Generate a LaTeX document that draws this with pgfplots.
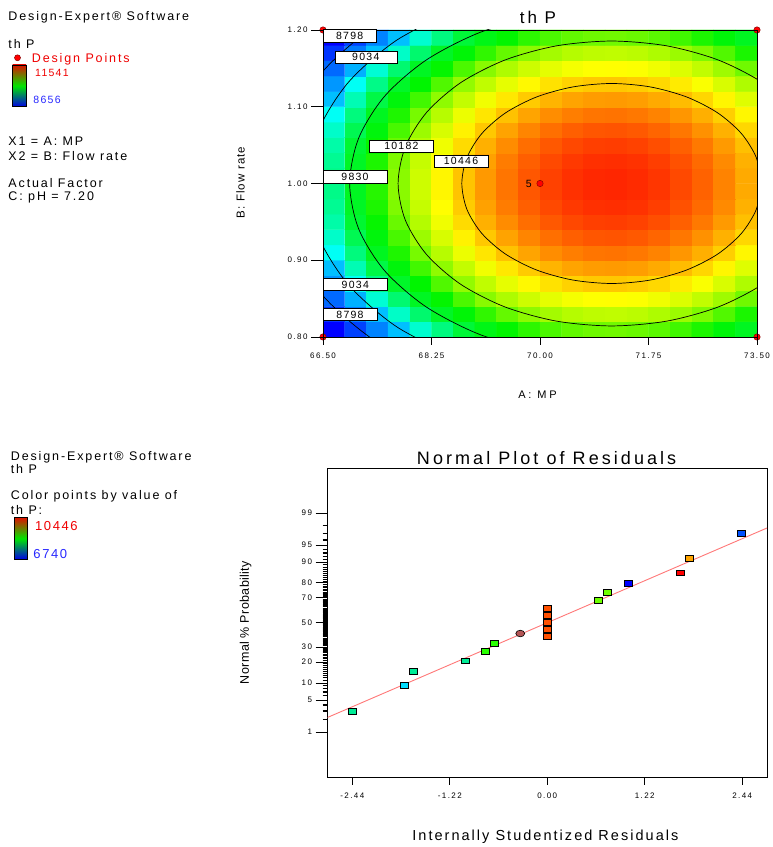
\documentclass[border=0pt]{standalone}
\usepackage{fontspec}
\setmainfont{Liberation Sans}
\usepackage{pgfplots}
\pgfplotsset{compat=1.18}

% size in bp, letter spacing in % of size
\newcommand\fnt[2]{\fontsize{#1bp}{#1bp}\selectfont\addfontfeatures{LetterSpace=#2}}

\definecolor{dpred}{RGB}{240,0,0}
\definecolor{lgblue}{RGB}{40,40,255}
\definecolor{fitline}{RGB}{255,120,120}
\definecolor{ptg}{RGB}{0,235,150}
\definecolor{pcy}{RGB}{0,220,255}
\definecolor{pgr}{RGB}{40,255,0}
\definecolor{pyg}{RGB}{110,255,0}
\definecolor{por}{RGB}{255,80,0}
\definecolor{pbl}{RGB}{0,0,255}
\definecolor{pb2}{RGB}{0,80,255}
\definecolor{prd}{RGB}{255,0,0}
\definecolor{pog}{RGB}{255,165,0}
\definecolor{pcirc}{RGB}{180,85,85}
\definecolor{cbred}{RGB}{220,20,0}
\definecolor{cbgreen}{RGB}{0,230,0}
\definecolor{cbblue}{RGB}{0,0,230}

\begin{document}
\begin{tikzpicture}[x=1bp,y=1bp]
\path[use as bounding box, fill=white] (0,0) rectangle (773,847);

% ---------------- top: response surface of th P ----------------
\begin{axis}[
  at={(323bp,510bp)}, anchor=south west, scale only axis,
  width=434bp, height=307bp,
  xmin=66.5, xmax=73.5, ymin=0.8, ymax=1.2,
  axis on top, clip mode=individual,
  axis line style={black, line width=0.8bp},
  tick pos=left, tick align=outside,
  major tick length=12bp,
  xtick style={/pgfplots/major tick length=8bp},
  tick style={black, line width=0.7bp},
  xtick={66.5,68.25,70,71.75,73.5},
  xticklabels={66.50,68.25,70.00,71.75,73.50},
  ytick={0.8,0.9,1.0,1.1,1.2},
  yticklabels={0.80,0.90,1.00,1.10,1.20},
  ticklabel style={font=\fnt{8}{18}},
  colormap={de}{rgb255(0cm)=(0,0,255) rgb255(5cm)=(0,255,255) rgb255(13.3cm)=(0,245,0) rgb255(17.1cm)=(255,255,0) rgb255(21.1cm)=(255,0,0)},
  point meta min=8650, point meta max=10760,
]
\addplot[matrix plot*, mesh/cols=20, point meta=explicit] coordinates {
(66.675,0.81)[8636] (67.025,0.81)[8777] (67.375,0.81)[8907] (67.725,0.81)[9026] (68.075,0.81)[9305] (68.425,0.81)[9568] (68.775,0.81)[9799] (69.125,0.81)[9907] (69.475,0.81)[9983] (69.825,0.81)[10045] (70.175,0.81)[10092] (70.525,0.81)[10126] (70.875,0.81)[10144] (71.225,0.81)[10149] (71.575,0.81)[10138] (71.925,0.81)[10114] (72.275,0.81)[10075] (72.625,0.81)[10022] (72.975,0.81)[9954] (73.325,0.81)[9872]
(66.675,0.83)[8752] (67.025,0.83)[8894] (67.375,0.83)[9024] (67.725,0.83)[9331] (68.075,0.83)[9626] (68.425,0.83)[9856] (68.775,0.83)[9962] (69.125,0.83)[10052] (69.475,0.83)[10129] (69.825,0.83)[10189] (70.175,0.83)[10224] (70.525,0.83)[10249] (70.875,0.83)[10263] (71.225,0.83)[10266] (71.575,0.83)[10258] (71.925,0.83)[10240] (72.275,0.83)[10211] (72.625,0.83)[10168] (72.975,0.83)[10100] (73.325,0.83)[10018]
(66.675,0.85)[8856] (67.025,0.85)[8997] (67.375,0.85)[9290] (67.725,0.85)[9616] (68.075,0.85)[9866] (68.425,0.85)[9986] (68.775,0.85)[10091] (69.125,0.85)[10182] (69.475,0.85)[10239] (69.825,0.85)[10285] (70.175,0.85)[10321] (70.525,0.85)[10345] (70.875,0.85)[10359] (71.225,0.85)[10362] (71.575,0.85)[10355] (71.925,0.85)[10337] (72.275,0.85)[10308] (72.625,0.85)[10268] (72.975,0.85)[10217] (73.325,0.85)[10147]
(66.675,0.87)[8946] (67.025,0.87)[9181] (67.375,0.87)[9539] (67.725,0.87)[9846] (68.075,0.87)[9980] (68.425,0.87)[10099] (68.775,0.87)[10199] (69.125,0.87)[10266] (69.475,0.87)[10323] (69.825,0.87)[10370] (70.175,0.87)[10405] (70.525,0.87)[10430] (70.875,0.87)[10444] (71.225,0.87)[10447] (71.575,0.87)[10439] (71.925,0.87)[10421] (72.275,0.87)[10392] (72.625,0.87)[10352] (72.975,0.87)[10302] (73.325,0.87)[10241]
(66.675,0.89)[9024] (67.025,0.89)[9394] (67.375,0.89)[9752] (67.725,0.89)[9943] (68.075,0.89)[10077] (68.425,0.89)[10193] (68.775,0.89)[10271] (69.125,0.89)[10339] (69.475,0.89)[10396] (69.825,0.89)[10442] (70.175,0.89)[10477] (70.525,0.89)[10502] (70.875,0.89)[10516] (71.225,0.89)[10519] (71.575,0.89)[10512] (71.925,0.89)[10494] (72.275,0.89)[10465] (72.625,0.89)[10425] (72.975,0.89)[10374] (73.325,0.89)[10313]
(66.675,0.91)[9183] (67.025,0.91)[9572] (67.375,0.91)[9875] (67.725,0.91)[10024] (68.075,0.91)[10158] (68.425,0.91)[10253] (68.775,0.91)[10332] (69.125,0.91)[10399] (69.475,0.91)[10456] (69.825,0.91)[10502] (70.175,0.91)[10538] (70.525,0.91)[10562] (70.875,0.91)[10576] (71.225,0.91)[10580] (71.575,0.91)[10572] (71.925,0.91)[10554] (72.275,0.91)[10525] (72.625,0.91)[10485] (72.975,0.91)[10435] (73.325,0.91)[10373]
(66.675,0.93)[9325] (67.025,0.93)[9714] (67.375,0.93)[9940] (67.725,0.93)[10088] (68.075,0.93)[10212] (68.425,0.93)[10301] (68.775,0.93)[10380] (69.125,0.93)[10447] (69.475,0.93)[10504] (69.825,0.93)[10551] (70.175,0.93)[10586] (70.525,0.93)[10611] (70.875,0.93)[10625] (71.225,0.93)[10628] (71.575,0.93)[10620] (71.925,0.93)[10602] (72.275,0.93)[10573] (72.625,0.93)[10533] (72.975,0.93)[10483] (73.325,0.93)[10422]
(66.675,0.95)[9432] (67.025,0.95)[9821] (67.375,0.95)[9989] (67.725,0.95)[10137] (68.075,0.95)[10248] (68.425,0.95)[10338] (68.775,0.95)[10416] (69.125,0.95)[10484] (69.475,0.95)[10541] (69.825,0.95)[10587] (70.175,0.95)[10622] (70.525,0.95)[10647] (70.875,0.95)[10661] (71.225,0.95)[10664] (71.575,0.95)[10657] (71.925,0.95)[10638] (72.275,0.95)[10609] (72.625,0.95)[10570] (72.975,0.95)[10519] (73.325,0.95)[10458]
(66.675,0.97)[9503] (67.025,0.97)[9858] (67.375,0.97)[10021] (67.725,0.97)[10169] (68.075,0.97)[10273] (68.425,0.97)[10362] (68.775,0.97)[10440] (69.125,0.97)[10508] (69.475,0.97)[10565] (69.825,0.97)[10611] (70.175,0.97)[10646] (70.525,0.97)[10671] (70.875,0.97)[10685] (71.225,0.97)[10688] (71.575,0.97)[10681] (71.925,0.97)[10662] (72.275,0.97)[10633] (72.625,0.97)[10594] (72.975,0.97)[10543] (73.325,0.97)[10482]
(66.675,0.99)[9538] (67.025,0.99)[9874] (67.375,0.99)[10037] (67.725,0.99)[10185] (68.075,0.99)[10285] (68.425,0.99)[10374] (68.775,0.99)[10452] (69.125,0.99)[10520] (69.475,0.99)[10577] (69.825,0.99)[10623] (70.175,0.99)[10658] (70.525,0.99)[10683] (70.875,0.99)[10697] (71.225,0.99)[10700] (71.575,0.99)[10693] (71.925,0.99)[10675] (72.275,0.99)[10646] (72.625,0.99)[10606] (72.975,0.99)[10555] (73.325,0.99)[10494]
(66.675,1.01)[9538] (67.025,1.01)[9874] (67.375,1.01)[10037] (67.725,1.01)[10185] (68.075,1.01)[10285] (68.425,1.01)[10374] (68.775,1.01)[10452] (69.125,1.01)[10520] (69.475,1.01)[10577] (69.825,1.01)[10623] (70.175,1.01)[10658] (70.525,1.01)[10683] (70.875,1.01)[10697] (71.225,1.01)[10700] (71.575,1.01)[10693] (71.925,1.01)[10675] (72.275,1.01)[10646] (72.625,1.01)[10606] (72.975,1.01)[10555] (73.325,1.01)[10494]
(66.675,1.03)[9503] (67.025,1.03)[9858] (67.375,1.03)[10021] (67.725,1.03)[10169] (68.075,1.03)[10273] (68.425,1.03)[10362] (68.775,1.03)[10440] (69.125,1.03)[10508] (69.475,1.03)[10565] (69.825,1.03)[10611] (70.175,1.03)[10646] (70.525,1.03)[10671] (70.875,1.03)[10685] (71.225,1.03)[10688] (71.575,1.03)[10681] (71.925,1.03)[10662] (72.275,1.03)[10633] (72.625,1.03)[10594] (72.975,1.03)[10543] (73.325,1.03)[10482]
(66.675,1.05)[9432] (67.025,1.05)[9821] (67.375,1.05)[9989] (67.725,1.05)[10137] (68.075,1.05)[10248] (68.425,1.05)[10338] (68.775,1.05)[10416] (69.125,1.05)[10484] (69.475,1.05)[10541] (69.825,1.05)[10587] (70.175,1.05)[10622] (70.525,1.05)[10647] (70.875,1.05)[10661] (71.225,1.05)[10664] (71.575,1.05)[10657] (71.925,1.05)[10638] (72.275,1.05)[10609] (72.625,1.05)[10570] (72.975,1.05)[10519] (73.325,1.05)[10458]
(66.675,1.07)[9325] (67.025,1.07)[9714] (67.375,1.07)[9940] (67.725,1.07)[10088] (68.075,1.07)[10212] (68.425,1.07)[10301] (68.775,1.07)[10380] (69.125,1.07)[10447] (69.475,1.07)[10504] (69.825,1.07)[10551] (70.175,1.07)[10586] (70.525,1.07)[10611] (70.875,1.07)[10625] (71.225,1.07)[10628] (71.575,1.07)[10620] (71.925,1.07)[10602] (72.275,1.07)[10573] (72.625,1.07)[10533] (72.975,1.07)[10483] (73.325,1.07)[10422]
(66.675,1.09)[9183] (67.025,1.09)[9572] (67.375,1.09)[9875] (67.725,1.09)[10024] (68.075,1.09)[10158] (68.425,1.09)[10253] (68.775,1.09)[10332] (69.125,1.09)[10399] (69.475,1.09)[10456] (69.825,1.09)[10502] (70.175,1.09)[10538] (70.525,1.09)[10562] (70.875,1.09)[10576] (71.225,1.09)[10580] (71.575,1.09)[10572] (71.925,1.09)[10554] (72.275,1.09)[10525] (72.625,1.09)[10485] (72.975,1.09)[10435] (73.325,1.09)[10373]
(66.675,1.11)[9024] (67.025,1.11)[9394] (67.375,1.11)[9752] (67.725,1.11)[9943] (68.075,1.11)[10077] (68.425,1.11)[10193] (68.775,1.11)[10271] (69.125,1.11)[10339] (69.475,1.11)[10396] (69.825,1.11)[10442] (70.175,1.11)[10477] (70.525,1.11)[10502] (70.875,1.11)[10516] (71.225,1.11)[10519] (71.575,1.11)[10512] (71.925,1.11)[10494] (72.275,1.11)[10465] (72.625,1.11)[10425] (72.975,1.11)[10374] (73.325,1.11)[10313]
(66.675,1.13)[8946] (67.025,1.13)[9181] (67.375,1.13)[9539] (67.725,1.13)[9846] (68.075,1.13)[9980] (68.425,1.13)[10099] (68.775,1.13)[10199] (69.125,1.13)[10266] (69.475,1.13)[10323] (69.825,1.13)[10370] (70.175,1.13)[10405] (70.525,1.13)[10430] (70.875,1.13)[10444] (71.225,1.13)[10447] (71.575,1.13)[10439] (71.925,1.13)[10421] (72.275,1.13)[10392] (72.625,1.13)[10352] (72.975,1.13)[10302] (73.325,1.13)[10241]
(66.675,1.15)[8856] (67.025,1.15)[8997] (67.375,1.15)[9290] (67.725,1.15)[9616] (68.075,1.15)[9866] (68.425,1.15)[9986] (68.775,1.15)[10091] (69.125,1.15)[10182] (69.475,1.15)[10239] (69.825,1.15)[10285] (70.175,1.15)[10321] (70.525,1.15)[10345] (70.875,1.15)[10359] (71.225,1.15)[10362] (71.575,1.15)[10355] (71.925,1.15)[10337] (72.275,1.15)[10308] (72.625,1.15)[10268] (72.975,1.15)[10217] (73.325,1.15)[10147]
(66.675,1.17)[8752] (67.025,1.17)[8894] (67.375,1.17)[9024] (67.725,1.17)[9331] (68.075,1.17)[9626] (68.425,1.17)[9856] (68.775,1.17)[9962] (69.125,1.17)[10052] (69.475,1.17)[10129] (69.825,1.17)[10189] (70.175,1.17)[10224] (70.525,1.17)[10249] (70.875,1.17)[10263] (71.225,1.17)[10266] (71.575,1.17)[10258] (71.925,1.17)[10240] (72.275,1.17)[10211] (72.625,1.17)[10168] (72.975,1.17)[10100] (73.325,1.17)[10018]
(66.675,1.19)[8636] (67.025,1.19)[8777] (67.375,1.19)[8907] (67.725,1.19)[9026] (68.075,1.19)[9305] (68.425,1.19)[9568] (68.775,1.19)[9799] (69.125,1.19)[9907] (69.475,1.19)[9983] (69.825,1.19)[10045] (70.175,1.19)[10092] (70.525,1.19)[10126] (70.875,1.19)[10144] (71.225,1.19)[10149] (71.575,1.19)[10138] (71.925,1.19)[10114] (72.275,1.19)[10075] (72.625,1.19)[10022] (72.975,1.19)[9954] (73.325,1.19)[9872]
};
% contour 10446
\addplot[black, line width=0.7bp, smooth] coordinates {
(73.571,1.0) (73.489,1.0337) (73.248,1.0651) (72.864,1.0921) (72.363,1.1128) (71.780,1.1258) (71.155,1.1303) (70.530,1.1258) (69.947,1.1128) (69.446,1.0921) (69.062,1.0651) (68.821,1.0337) (68.739,1.0) (68.821,0.9663) (69.062,0.9349) (69.446,0.9079) (69.947,0.8872) (70.530,0.8742) (71.155,0.8697) (71.780,0.8742) (72.363,0.8872) (72.864,0.9079) (73.248,0.9349) (73.489,0.9663) (73.571,1.0)};
% contour 10182
\addplot[black, line width=0.7bp, smooth] coordinates {
(74.599,1.0) (74.481,1.0480) (74.137,1.0928) (73.590,1.1313) (72.877,1.1608) (72.046,1.1793) (71.155,1.1856) (70.264,1.1793) (69.433,1.1608) (68.720,1.1313) (68.173,1.0928) (67.829,1.0480) (67.711,1.0) (67.829,0.9520) (68.173,0.9072) (68.720,0.8687) (69.433,0.8392) (70.264,0.8207) (71.155,0.8144) (72.046,0.8207) (72.877,0.8392) (73.590,0.8687) (74.137,0.9072) (74.481,0.9520) (74.599,1.0)};
% contour 9830
\addplot[black, line width=0.7bp, smooth] coordinates {
(70.062,1.2200) (69.043,1.1972) (68.168,1.1610) (67.496,1.1139) (67.074,1.0589) (66.930,1.0) (67.074,0.9411) (67.496,0.8861) (68.168,0.8390) (69.043,0.8028) (70.062,0.7800)};
% contour 9034
\addplot[black, line width=0.7bp, smooth] coordinates {
(68.705,1.2288) (67.690,1.1868) (66.912,1.1321) (66.422,1.0684) (66.255,1.0) (66.422,0.9316) (66.912,0.8679) (67.690,0.8132) (68.705,0.7712)};
% contour 8798
\addplot[black, line width=0.7bp, smooth] coordinates {
(68.461,1.2516) (67.345,1.2054) (66.488,1.1453) (65.950,1.0752) (65.766,1.0) (65.950,0.9248) (66.488,0.8547) (67.345,0.7946) (68.461,0.7484)};
% design points
\addplot[only marks, mark=*, mark size=3.2bp, mark options={fill=red, draw=red!55!black, line width=0.5bp}] coordinates {
(66.5,0.8) (66.5,1.2) (73.5,0.8) (73.5,1.2) (70,1.0)};
\node[anchor=east, inner sep=0, xshift=-8bp, font=\fnt{10.5}{10}] at (axis cs:70,1.0) {5};
\end{axis}

% contour labels
\tikzset{clab/.style={draw=black, fill=white, line width=0.6bp, inner sep=0, minimum height=12.3bp, font=\fnt{10.5}{12}}}
\node[clab, minimum width=53bp, minimum height=13bp] at (349.7,810.7) {8798};
\node[clab, minimum width=62bp] at (365.8,789.8) {9034};
\node[clab, minimum width=64bp] at (401.4,700.8) {10182};
\node[clab, minimum width=54bp] at (461,685.8) {10446};
\node[clab, minimum width=64bp] at (355,670.3) {9830};
\node[clab, minimum width=64.7bp] at (355.3,562.5) {9034};
\node[clab, minimum width=54bp] at (350,532.5) {8798};

% titles and axis labels, top
\node[anchor=base, inner sep=0, font=\fnt{17}{17}] at (538,823) {th P};
\node[anchor=base, inner sep=0, font=\fnt{11}{25}] at (537.5,448) {A: MP};
\node[rotate=90, inner sep=0, font=\fnt{11.5}{10}] at (240.4,664.5) {B: Flow rate};

% left legend, top
\begin{scope}[every node/.style={anchor=base west, inner sep=0, font=\fnt{12.5}{15}}]
\node at (8.3,826.3) {Design-Expert® Software};
\node at (8.3,798.7) {th P};
\node[text=dpred] at (31.7,784.3) {Design Points};
\node[font=\fnt{10.5}{12}, text=dpred] at (35,770.3) {11541};
\node[font=\fnt{10.5}{12}, text=lgblue] at (33.3,743) {8656};
\node at (8.3,701.3) {X1 = A: MP};
\node at (8.3,686.3) {X2 = B: Flow rate};
\node at (8.3,659.3) {Actual Factor};
\node at (8.3,646.5) {C: pH = 7.20};
\end{scope}
\fill[red, draw=red!55!black, line width=0.5bp] (17.5,789.2) circle (3bp);
\shade[top color=cbred, bottom color=cbblue, middle color=cbgreen] (12.7,740.3) rectangle (26,782);
\draw[black, line width=0.9bp] (12.7,740.3) rectangle (26,782);

% ---------------- bottom: normal plot of residuals ----------------
\begin{axis}[
  at={(327.5bp,70bp)}, anchor=south west, scale only axis,
  width=439.5bp, height=309bp,
  xmin=-2.75, xmax=2.75, ymin=-3.28, ymax=3.28,
  clip mode=individual,
  axis line style={black, line width=0.9bp},
  tick pos=left, tick align=outside,
  major tick length=12bp,
  xtick style={/pgfplots/major tick length=8bp},
  tick style={black, line width=0.7bp},
  xtick={-2.44,-1.22,0,1.22,2.44},
  xticklabels={-2.44,-1.22,0.00,1.22,2.44},
  ytick={-2.3263,-1.6449,-1.2816,-0.8416,-0.5244,0,0.5244,0.8416,1.2816,1.6449,2.3263},
  yticklabels={1,5,10,20,30,50,70,80,90,95,99},
  extra y ticks={-2.0537,-1.8808,-1.7507,-1.5548,-1.4758,-1.4051,-1.3408,-1.2265,-1.1750,-1.1264,-1.0803,-1.0364,-0.9945,-0.9542,-0.9154,-0.8779,-0.8064,-0.7722,-0.7388,-0.7063,-0.6745,-0.6433,-0.6128,-0.5828,-0.5534,-0.4959,-0.4677,-0.4399,-0.4125,-0.3853,-0.3585,-0.3319,-0.3055,-0.2793,-0.2533,-0.2275,-0.2019,-0.1764,-0.1510,-0.1257,-0.1004,-0.0753,-0.0502,-0.0251,0.0251,0.0502,0.0753,0.1004,0.1257,0.1510,0.1764,0.2019,0.2275,0.2533,0.2793,0.3055,0.3319,0.3585,0.3853,0.4125,0.4399,0.4677,0.4959,0.5534,0.5828,0.6128,0.6433,0.6745,0.7063,0.7388,0.7722,0.8064,0.8779,0.9154,0.9542,0.9945,1.0364,1.0803,1.1264,1.1750,1.2265,1.3408,1.4051,1.4758,1.5548,1.7507,1.8808,2.0537},
  extra y tick labels={},
  extra y tick style={/pgfplots/major tick length=5bp, tick style={black, line width=1.2bp}},
  ticklabel style={font=\fnt{8}{18}},
]
\addplot[fitline, line width=0.9bp] coordinates {(-2.75,-2.016) (2.75,2.006)};
\addplot[scatter, only marks, mark=square*, mark size=3.4bp,
  scatter src=explicit symbolic,
  scatter/classes={
    tg={mark=square*, draw=black, fill=ptg, line width=0.6bp, xscale=1.15, yscale=0.85},
    cy={mark=square*, draw=black, fill=pcy, line width=0.6bp, xscale=1.15, yscale=0.85},
    gr={mark=square*, draw=black, fill=pgr, line width=0.6bp, xscale=1.15, yscale=0.85},
    yg={mark=square*, draw=black, fill=pyg, line width=0.6bp, xscale=1.15, yscale=0.85},
    or={mark=square*, draw=black, fill=por, line width=0.6bp, xscale=1.15, yscale=0.85},
    bl={mark=square*, draw=black, fill=pbl, line width=0.6bp, xscale=1.15, yscale=0.85},
    bt={mark=square*, draw=black, fill=pb2, line width=0.6bp, xscale=1.15, yscale=0.85},
    rd={mark=square*, draw=black, fill=prd, line width=0.6bp, xscale=1.15, yscale=0.85},
    og={mark=square*, draw=black, fill=pog, line width=0.6bp, xscale=1.15, yscale=0.85}}]
  table[meta=c] {
x y c
-2.444 -1.879 tg
-1.790 -1.340 cy
-1.681 -1.043 tg
-1.026 -0.815 tg
-0.776 -0.617 gr
-0.663 -0.447 gr
0 -0.298 or
0 -0.140 or
0 0.009 or
0 0.149 or
0 0.306 or
0.642 0.468 yg
0.755 0.638 yg
1.010 0.830 bl
1.665 1.057 rd
1.777 1.355 og
2.428 1.894 bt
};
\addplot[only marks, mark=*, mark size=3.3bp, mark options={xscale=1.35, fill=pcirc, draw=black, line width=0.6bp}] coordinates {(-0.338,-0.234)};
\end{axis}

\node[anchor=base, inner sep=0, font=\fnt{18}{17}] at (546.6,382) {Normal Plot of Residuals};
\node[anchor=base, inner sep=0, font=\fnt{14.5}{14}] at (545.4,6) {Internally Studentized Residuals};
\node[rotate=90, inner sep=0, font=\fnt{12.5}{3}] at (245.6,224.5) {Normal \% Probability};

% left legend, bottom
\begin{scope}[every node/.style={anchor=base west, inner sep=0, font=\fnt{12.5}{15}}]
\node at (10.7,386.3) {Design-Expert® Software};
\node at (10.7,373.7) {th P};
\node at (10.7,347) {Color points by value of};
\node at (10.7,332) {th P:};
\node[font=\fnt{13}{12}, text=dpred] at (35,316.3) {10446};
\node[font=\fnt{13}{12}, text=lgblue] at (33.3,288.7) {6740};
\end{scope}
\shade[top color=cbred, bottom color=cbblue, middle color=cbgreen] (14,287.7) rectangle (27.3,329.3);
\draw[black, line width=0.9bp] (14,287.7) rectangle (27.3,329.3);
\end{tikzpicture}
\end{document}
